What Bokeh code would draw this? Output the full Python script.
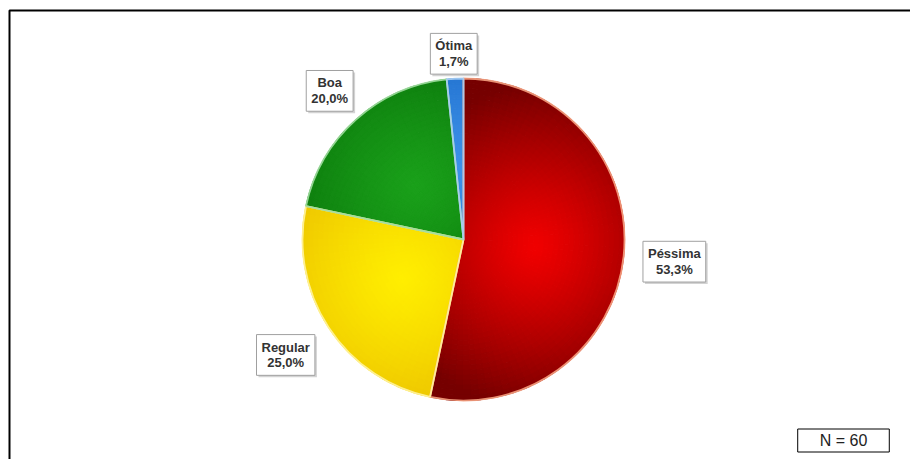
import numpy as np
from bokeh.plotting import figure
from bokeh.models import Range1d, BoxAnnotation, ColumnDataSource
from bokeh.embed import file_html
from bokeh.resources import INLINE
from bokeh.core.properties import value

# ---- data ----
categories = ["Péssima", "Regular", "Boa", "Ótima"]
counts = [32, 15, 12, 1]
percent_labels = ["53,3%", "25,0%", "20,0%", "1,7%"]
n_label = "N = 60"

# ---- styles ----
inner_colors = [(240, 0, 0), (255, 238, 0), (26, 160, 26), (60, 145, 232)]
outer_colors = [(118, 0, 0), (232, 185, 0), (8, 110, 8), (16, 92, 190)]
rim_colors = ["#f4a080", "#fff3a0", "#a0dca0", "#a8cdf2"]
label_r = [212, 212, 200, 186]

W, H = 910, 459
cx, cy, R = 463, H - 239, 161

p = figure(width=W, height=H, x_range=Range1d(0, W), y_range=Range1d(0, H),
           output_backend="svg", toolbar_location=None, min_border=0,
           x_axis_location=None, y_axis_location=None)
p.grid.visible = False
p.outline_line_color = None
p.background_fill_color = "white"

total = float(sum(counts))
start = np.pi / 2
angles = []
for c in counts:
    end = start - c / total * 2 * np.pi
    angles.append((start, end))
    start = end

for i, (a0, a1) in enumerate(angles):
    span = abs(a0 - a1)
    n_a = max(2, int(np.ceil(np.degrees(span) / 3.0)))
    n_r = 32
    r_edges = np.linspace(0, R, n_r + 1)
    a_edges = np.linspace(a1, a0, n_a + 1)
    mid = (a0 + a1) / 2
    fx = cx + 0.45 * R * np.cos(mid)
    fy = cy + 0.45 * R * np.sin(mid)
    ir, orr, sa, ea, cols = [], [], [], [], []
    ci = np.array(inner_colors[i], float)
    co = np.array(outer_colors[i], float)
    for k in range(n_r):
        rm = (r_edges[k] + r_edges[k + 1]) / 2
        for j in range(n_a):
            am = (a_edges[j] + a_edges[j + 1]) / 2
            px = cx + rm * np.cos(am)
            py = cy + rm * np.sin(am)
            d = np.hypot(px - fx, py - fy)
            t = min(1.0, d / (R * 1.0)) ** 1.2
            col = ci * (1 - t) + co * t
            ir.append(r_edges[k]); orr.append(r_edges[k + 1])
            sa.append(a_edges[j]); ea.append(a_edges[j + 1])
            cols.append("#%02x%02x%02x" % tuple(int(round(v)) for v in col))
    src = ColumnDataSource(dict(ir=ir, orr=orr, sa=sa, ea=ea, c=cols))
    p.annular_wedge(x=cx, y=cy, inner_radius="ir", outer_radius="orr",
                    start_angle="sa", end_angle="ea", fill_color="c",
                    line_color="c", line_width=1.2, source=src)

# slice outlines
for i, (a0, a1) in enumerate(angles):
    p.wedge(x=cx, y=cy, radius=R, start_angle=a1, end_angle=a0,
            fill_color=None, line_color=rim_colors[i], line_width=1.8, line_alpha=0.9)

# labels
lx, ly, txt = [], [], []
for i, (a0, a1) in enumerate(angles):
    mid = (a0 + a1) / 2
    lx.append(cx + label_r[i] * np.cos(mid))
    ly.append(cy + label_r[i] * np.sin(mid))
    txt.append(categories[i] + "\n" + percent_labels[i])
lsrc = ColumnDataSource(dict(x=lx, y=ly, t=txt, xs=[v + 2 for v in lx], ys=[v - 2 for v in ly]))

pad = dict(left=5, right=5, top=5, bottom=5)
p.text(x="xs", y="ys", text="t", source=lsrc, text_align="center", text_baseline="middle",
       text_font=value("Liberation Sans"), text_font_style="bold", text_font_size="13px",
       text_alpha=0, text_line_height=1.05,
       background_fill_color="#c8c8c8", background_fill_alpha=0.8, padding=pad)
p.text(x="x", y="y", text="t", source=lsrc, text_align="center", text_baseline="middle",
       text_font=value("Liberation Sans"), text_font_style="bold", text_font_size="13px",
       text_color="#333333", text_line_height=1.05,
       background_fill_color="white", border_line_color="#a0a0a0", border_line_width=1,
       padding=pad)

nsrc = ColumnDataSource(dict(x=[843], y=[H - 440], t=[n_label]))
p.text(x="x", y="y", text="t", source=nsrc, text_align="center", text_baseline="middle",
       text_font=value("Liberation Sans"), text_font_size="16px", text_color="#222222",
       background_fill_color="white", border_line_color="black", border_line_width=1,
       padding=dict(left=22, right=22, top=3, bottom=3))

# frame
p.add_layout(BoxAnnotation(left=9, right=W + 50, top=H - 10, bottom=-50,
                           fill_alpha=0, line_color="black", line_alpha=1.0, line_width=2))

open("out.html", "w").write(file_html(p, INLINE))
